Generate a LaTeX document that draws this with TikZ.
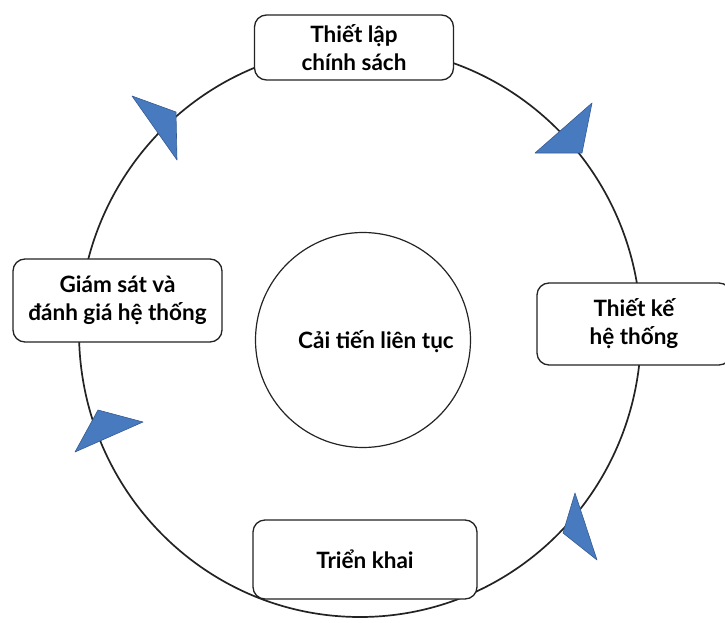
\documentclass[tikz,border=0pt]{standalone}
\usepackage{fontspec}
\setmainfont{Lato}
\usetikzlibrary{positioning}
\definecolor{tipblue}{RGB}{72,122,192}
\definecolor{ringgray}{RGB}{35,35,35}

\begin{document}
\begin{tikzpicture}[x=1pt, y=-1pt,
    label font/.style={font=\bfseries\fontsize{22.5}{28}\selectfont},
    stage/.style={draw=ringgray, line width=1.3pt, rounded corners=12pt, fill=white,
      align=center, inner sep=0pt, label font},
    tip/.style={fill=tipblue, draw=tipblue!75!black, line width=0.6pt, line join=round}]
  \useasboundingbox (0,0) rectangle (725,623);

  % outer cycle and centre
  \draw[ringgray, line width=1.7pt] (360,332) ellipse [x radius=281pt, y radius=285pt];
  \node[circle, draw=ringgray, line width=1.2pt, minimum size=215pt, inner sep=0pt] (hub) at (363,340) {};
  \node[label font] (hubtext) at (376,342) {Cải tiến liên tục};

  % stages
  \node[stage, minimum width=199pt, minimum height=65pt] (policy) at (354,47.5) {Thiết lập\\chính sách};
  \node[stage, minimum width=194pt, minimum height=82pt] (design) at (634,324) {Thiết kế\\hệ thống};
  \node[stage, minimum width=224pt, minimum height=79pt] (deploy) at (365,559.5) {Triển khai};
  \node[stage, minimum width=209pt, minimum height=83pt] (monitor) at (117.5,300.5) {Giám sát và\\đánh giá hệ thống};

  % arrow tips on the cycle
  \filldraw[tip] (132,96) -- (176,112) -- (177,160) -- cycle;
  \filldraw[tip] (592,103) -- (535,153) -- (582,153) -- cycle;
  \filldraw[tip] (575,493) -- (563,533) -- (597,560) -- cycle;
  \filldraw[tip] (98,410) -- (143,422) -- (75,452) -- cycle;
\end{tikzpicture}
\end{document}
